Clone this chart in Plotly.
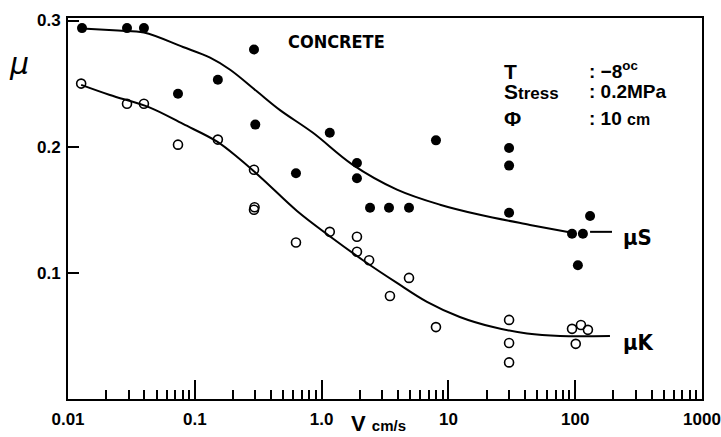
import plotly.graph_objects as go

# ---- data ----
mus_v = [0.0129, 0.0292, 0.0397, 0.0737, 0.152, 0.293, 0.30, 0.628, 1.16, 1.90, 1.90,
         2.41, 3.40, 4.89, 7.98, 30.1, 30.1, 30.1, 94.4, 115, 105, 131]
mus_pts = [0.294, 0.294, 0.294, 0.242, 0.253, 0.277, 0.2175, 0.179, 0.211, 0.187, 0.175,
           0.1516, 0.1516, 0.1516, 0.205, 0.199, 0.185, 0.1476, 0.131, 0.131, 0.106, 0.145]

muk_v = [0.0127, 0.0292, 0.0397, 0.0737, 0.152, 0.293, 0.293, 0.296, 0.628, 1.16, 1.90, 1.90,
         2.37, 3.46, 4.89, 7.98, 30.1, 30.1, 30.1, 94.4, 111, 126, 101]
muk_pts = [0.250, 0.234, 0.234, 0.2016, 0.2056, 0.1817, 0.150, 0.152, 0.124, 0.1325, 0.1286, 0.1167,
           0.110, 0.0817, 0.096, 0.057, 0.0627, 0.0444, 0.029, 0.0556, 0.0587, 0.0548, 0.0437]

mus_curve_v = [0.0129, 0.0248, 0.0397, 0.0807, 0.132, 0.190, 0.310, 0.470, 0.855, 1.74,
               3.93, 8.59, 17.7, 44.0, 94.4]
mus_curve = [0.2937, 0.292, 0.2905, 0.279, 0.2706, 0.261, 0.2437, 0.229, 0.211, 0.186,
             0.166, 0.154, 0.146, 0.138, 0.1317]
mus_tail_v = [131, 195]
mus_tail = [0.1325, 0.1325]

muk_curve_v = [0.0127, 0.0214, 0.0443, 0.0807, 0.150, 0.227, 0.345, 0.640, 1.16, 2.12,
               3.93, 6.78, 12.3, 22.5, 41.7, 75.9, 188]
muk_curve = [0.249, 0.241, 0.231, 0.218, 0.204, 0.190, 0.174, 0.149, 0.129, 0.110,
             0.092, 0.077, 0.065, 0.057, 0.052, 0.050, 0.050]

x_tickvals = [0.01, 0.1, 1, 10, 100, 1000]
x_ticktext = ["0.01", "0.1", "1.0", "10", "100", "1000"]
x_minor = [m * d for d in (0.01, 0.1, 1, 10, 100) for m in range(2, 10)]
y_tickvals = [0.1, 0.2, 0.3]
y_ticktext = ["0.1", "0.2", "0.3"]

FONT = "Liberation Sans, Arial, sans-serif"
NARROW = "DejaVu Sans Condensed, Liberation Sans, sans-serif"

fig = go.Figure()
fig.add_trace(go.Scatter(x=mus_curve_v, y=mus_curve, mode="lines", line=dict(color="black", width=2, shape="spline"), showlegend=False))
fig.add_trace(go.Scatter(x=mus_tail_v, y=mus_tail, mode="lines", line=dict(color="black", width=2), showlegend=False))
fig.add_trace(go.Scatter(x=muk_curve_v, y=muk_curve, mode="lines", line=dict(color="black", width=2, shape="spline"), showlegend=False))
fig.add_trace(go.Scatter(x=mus_v, y=mus_pts, mode="markers",
                         marker=dict(symbol="circle", size=10, color="black"), showlegend=False))
fig.add_trace(go.Scatter(x=muk_v, y=muk_pts, mode="markers",
                         marker=dict(symbol="circle-open", size=9, color="black", line=dict(width=1.6, color="black")),
                         showlegend=False))

fig.update_xaxes(type="log", range=[-2, 3], tickvals=x_tickvals, ticktext=x_ticktext,
                 ticks="inside", ticklen=19, tickwidth=1.5, tickcolor="black", automargin=False,
                 minor=dict(tickvals=x_minor, ticks="inside", ticklen=9, tickwidth=1.5, tickcolor="black"),
                 showline=True, linecolor="black", linewidth=2, mirror=True, showgrid=False, zeroline=False,
                 tickfont=dict(family=FONT, size=17, color="black", weight="bold"), ticklabelstandoff=4)
fig.update_yaxes(range=[0, 0.302], tickvals=y_tickvals, ticktext=y_ticktext, automargin=False,
                 ticks="inside", ticklen=11, tickwidth=2, tickcolor="black",
                 showline=True, linecolor="black", linewidth=2, mirror=True, showgrid=False, zeroline=False,
                 tickfont=dict(family=FONT, size=17, color="black", weight="bold"), ticklabelstandoff=2)

ann = []
ann.append(dict(x=0.423, y=0.283, xref="paper", yref="y", text="<b>CONCRETE</b>", showarrow=False,
                font=dict(family=NARROW, size=18, color="black"), xanchor="center", yanchor="middle"))
# parameter block (x in log10 units)
for txt, yy in [("<b>T</b>", 0.2595), ("<b>S<span style='font-size:17px'>tress</span></b>", 0.2435), ("<b>Φ</b>", 0.2225)]:
    ann.append(dict(x=1.42, y=yy, xref="x", yref="y", text=txt, showarrow=False, xanchor="left", yanchor="middle",
                    font=dict(family=FONT, size=21, color="black")))
for txt, yy in [("<b>: −8<sup>oc</sup></b>", 0.2605), ("<b>: 0.2MPa</b>", 0.2435), ("<b>: 10 <span style='font-size:16px'>cm</span></b>", 0.2225)]:
    ann.append(dict(x=2.09, y=yy, xref="x", yref="y", text=txt, showarrow=False, xanchor="left", yanchor="middle",
                    font=dict(family=FONT, size=19, color="black")))
ann.append(dict(x=2.36, y=0.128, xref="x", yref="y", text="<b>μS</b>", showarrow=False, xanchor="left", yanchor="middle",
                font=dict(family=NARROW, size=22, color="black")))
ann.append(dict(x=2.36, y=0.045, xref="x", yref="y", text="<b>μK</b>", showarrow=False, xanchor="left", yanchor="middle",
                font=dict(family=NARROW, size=22, color="black")))
# axis titles
ann.append(dict(x=-0.077, y=0.266, xref="paper", yref="y", text="<i>μ</i>", showarrow=False, xanchor="center", yanchor="middle",
                font=dict(family="DejaVu Sans, sans-serif", size=30, color="black")))
ann.append(dict(x=0.49, y=-0.065, xref="paper", yref="paper", text="<b>V <span style='font-size:15px'>cm/s</span></b>",
                showarrow=False, xanchor="center", yanchor="middle", font=dict(family=FONT, size=22, color="black")))

fig.update_layout(width=721, height=437, margin=dict(l=68, r=19, t=18, b=38),
                  plot_bgcolor="white", paper_bgcolor="white", annotations=ann, showlegend=False)
fig.write_html("out.html")
